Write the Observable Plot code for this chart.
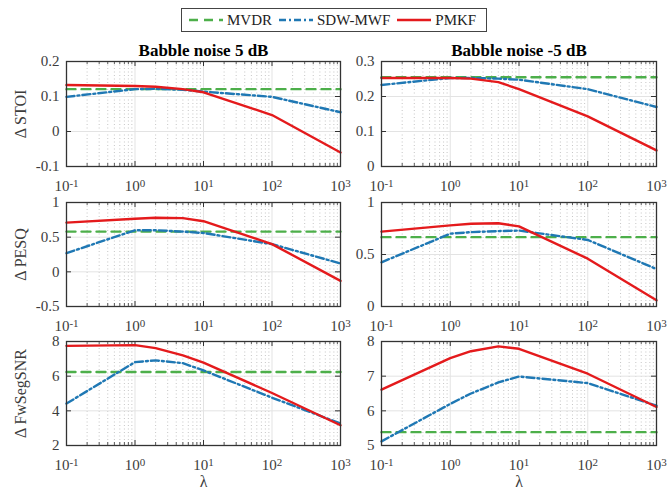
<!DOCTYPE html>
<html>
<head>
<meta charset="utf-8">
<script src="https://cdn.jsdelivr.net/npm/d3@7"></script>
<script src="https://cdn.jsdelivr.net/npm/@observablehq/plot@0.6"></script>
<style>
  html, body { margin: 0; padding: 0; background: #fff; }
  #root { position: relative; width: 671px; height: 492px; overflow: hidden; background: #fff; font-family: 'Liberation Serif', 'Times New Roman', serif; }
  .panel { position: absolute; }
  .panel svg { font-family: 'Liberation Serif', 'Times New Roman', serif !important; }
  .legend { position: absolute; left: 181px; top: 8px; width: 306px; height: 24px; border: 1px solid #444; box-sizing: border-box; display: flex; align-items: center; font-size: 15px; color: #222; padding-left: 6px; }
  .legend svg { display: block; }
  .legend span { margin-right: 6px; margin-left: 3px; }
</style>
</head>
<body>
<div id="root">
  <div class="legend">
    <svg width="36" height="10"><line x1="1" y1="5" x2="35" y2="5" stroke="#4daf4a" stroke-width="2.4" stroke-dasharray="9,6"/></svg><span>MVDR</span>
    <svg width="36" height="10"><line x1="1" y1="5" x2="35" y2="5" stroke="#1f78b4" stroke-width="2.4" stroke-dasharray="7,3,2,3"/></svg><span>SDW-MWF</span>
    <svg width="36" height="10"><line x1="1" y1="5" x2="35" y2="5" stroke="#e41a1c" stroke-width="2.4"/></svg><span>PMKF</span>
  </div>
</div>
<script>
// ---- Data ----
const lambdas = [0.1, 1, 2, 5, 10, 100, 1000];
const xTicks = [0.1, 1, 10, 100, 1000];
const seriesNames = ["MVDR", "SDW-MWF", "PMKF"];
const seriesColors = ["#4daf4a", "#1f78b4", "#e41a1c"];
const seriesDash = ["9,6", "8,3,2,3", null];
const columnTitles = ["Babble noise 5 dB", "Babble noise -5 dB"];
const rowLabels = ["Δ STOI", "Δ PESQ", "Δ FwSegSNR"];
const xLabel = "λ";

// STOI
const stoi5_mvdr = 0.121;
const stoi5_sdw = [0.099, 0.121, 0.122, 0.119, 0.114, 0.099, 0.055];
const stoi5_pmkf = [0.133, 0.130, 0.128, 0.121, 0.112, 0.047, -0.060];
const stoiM5_mvdr = 0.255;
const stoiM5_sdw = [0.233, 0.253, 0.253, 0.251, 0.248, 0.221, 0.170];
const stoiM5_pmkf = [0.253, 0.253, 0.251, 0.241, 0.221, 0.143, 0.046];
// PESQ
const pesq5_mvdr = 0.58;
const pesq5_sdw = [0.27, 0.60, 0.60, 0.58, 0.56, 0.40, 0.12];
const pesq5_pmkf = [0.71, 0.765, 0.78, 0.775, 0.73, 0.40, -0.13];
const pesqM5_mvdr = 0.667;
const pesqM5_sdw = [0.425, 0.70, 0.715, 0.725, 0.73, 0.64, 0.36];
const pesqM5_pmkf = [0.72, 0.78, 0.795, 0.80, 0.77, 0.46, 0.06];
// FwSegSNR
const fw5_mvdr = 6.24;
const fw5_sdw = [4.42, 6.81, 6.91, 6.75, 6.33, 4.76, 3.27];
const fw5_pmkf = [7.75, 7.79, 7.62, 7.2, 6.78, 5.03, 3.17];
const fwM5_mvdr = 5.385;
const fwM5_sdw = [5.12, 6.2, 6.5, 6.82, 6.99, 6.8, 6.15];
const fwM5_pmkf = [6.61, 7.52, 7.72, 7.86, 7.79, 7.07, 6.11];

// y axes
const yDomains = [[[-0.1, 0.2], [0, 0.3]], [[-0.5, 1], [0, 1]], [[2, 8], [5, 8]]];
const yTicks = [[[-0.1, 0, 0.1, 0.2], [0, 0.1, 0.2, 0.3]], [[-0.5, 0, 0.5, 1], [0, 0.5, 1]], [[2, 4, 6, 8], [5, 6, 7, 8]]];

const panelData = [
  [[stoi5_mvdr, stoi5_sdw, stoi5_pmkf], [stoiM5_mvdr, stoiM5_sdw, stoiM5_pmkf]],
  [[pesq5_mvdr, pesq5_sdw, pesq5_pmkf], [pesqM5_mvdr, pesqM5_sdw, pesqM5_pmkf]],
  [[fw5_mvdr, fw5_sdw, fw5_pmkf], [fwM5_mvdr, fwM5_sdw, fwM5_pmkf]]
];

// ---- Layout ----
const frameLefts = [66, 381];
const frameWidths = [274, 275];
const marginLefts = [66, 60];
const frameTops = [61, 202, 341];
const frameHeights = [105, 104, 104];

const minorTicks = [];
for (const dec of [0.1, 1, 10, 100]) for (let k = 2; k <= 9; k++) minorTicks.push(+(dec * k).toPrecision(3));

const root = document.getElementById("root");
const FONT = "'Liberation Serif', 'Times New Roman', serif";
const TXT = "#3c3c3c";

function makePanel(r, c) {
  const [mv, sdw, pm] = panelData[r][c];
  const fw = frameWidths[c], fh = frameHeights[r];
  const mL = marginLefts[c], mT = 10, mR = 6, mB = 50;
  const rows = [];
  lambdas.forEach((x, i) => {
    rows.push({x, y: mv, s: seriesNames[0]});
    rows.push({x, y: sdw[i], s: seriesNames[1]});
    rows.push({x, y: pm[i], s: seriesNames[2]});
  });
  const lineMarks = seriesNames.map((name, k) =>
    Plot.line(rows.filter(d => d.s === name), {
      x: "x", y: "y", stroke: seriesColors[k], strokeWidth: 2.4,
      strokeDasharray: seriesDash[k] || undefined, strokeLinejoin: "round"
    })
  );
  const yt = yTicks[r][c];
  const marks = [
    Plot.ruleX(minorTicks, {stroke: "#b8b8b8", strokeWidth: 0.8, strokeDasharray: "1,2.5"}),
    Plot.ruleX(xTicks, {stroke: "#e3e3e3", strokeWidth: 1}),
    Plot.ruleY(yt, {stroke: "#e3e3e3", strokeWidth: 1}),
    // inward ticks
    Plot.ruleX(xTicks, {stroke: "#333", insetBottom: fh - 5}),
    Plot.ruleX(xTicks, {stroke: "#333", insetTop: fh - 5}),
    Plot.ruleX(minorTicks, {stroke: "#333", strokeWidth: 0.8, insetBottom: fh - 3}),
    Plot.ruleX(minorTicks, {stroke: "#333", strokeWidth: 0.8, insetTop: fh - 3}),
    Plot.ruleY(yt, {stroke: "#333", insetRight: fw - 5}),
    Plot.ruleY(yt, {stroke: "#333", insetLeft: fw - 5}),
    ...lineMarks,
    Plot.frame({stroke: "#333", strokeWidth: 1.3}),
    Plot.axisX({ticks: xTicks, tickSize: 0, tickPadding: 14, fill: TXT, fontSize: 15,
      tickFormat: d => "10^" + Math.round(Math.log10(d)), label: null}),
    Plot.axisY({ticks: yt, tickSize: 0, tickPadding: 7, fill: TXT, fontSize: 15,
      tickFormat: d => String(d), label: null})
  ];
  if (c === 0) marks.push(Plot.text([rowLabels[r]], {frameAnchor: "left", dx: -46, rotate: -90, textAnchor: "middle", lineAnchor: "middle", fontSize: 16, fill: TXT}));
  if (r === 0) marks.push(Plot.text([columnTitles[c]], {frameAnchor: "top", dy: -11, textAnchor: "middle", lineAnchor: "middle", fontSize: 17, fontWeight: "bold", fill: "#000"}));
  if (r === 2) marks.push(Plot.text([xLabel], {frameAnchor: "bottom", dy: 36, textAnchor: "middle", lineAnchor: "middle", fontSize: 16, fill: TXT}));

  const svg = Plot.plot({
    width: mL + fw + mR,
    height: mT + fh + mB,
    marginLeft: mL, marginRight: mR, marginTop: mT, marginBottom: mB,
    x: {type: "log", domain: [0.1, 1000]},
    y: {domain: yDomains[r][c]},
    style: {background: "none", overflow: "visible", fontFamily: FONT, fontSize: "15px", color: TXT},
    marks
  });
  svg.setAttribute("font-family", FONT);
  // superscript exponents
  svg.querySelectorAll('g[aria-label="x-axis tick label"] text').forEach(t => {
    const s = t.textContent;
    if (!s.startsWith("10^")) return;
    const exp = s.slice(3);
    t.textContent = "";
    const ns = "http://www.w3.org/2000/svg";
    const a = document.createElementNS(ns, "tspan"); a.textContent = "10";
    const b = document.createElementNS(ns, "tspan"); b.textContent = exp;
    b.setAttribute("dy", "-0.42em"); b.setAttribute("font-size", "11");
    t.appendChild(a); t.appendChild(b);
  });
  const div = document.createElement("div");
  div.className = "panel";
  div.style.left = (frameLefts[c] - mL) + "px";
  div.style.top = (frameTops[r] - mT) + "px";
  div.appendChild(svg);
  root.appendChild(div);
}

for (let r = 0; r < 3; r++) for (let c = 0; c < 2; c++) makePanel(r, c);
</script>
</body>
</html>
